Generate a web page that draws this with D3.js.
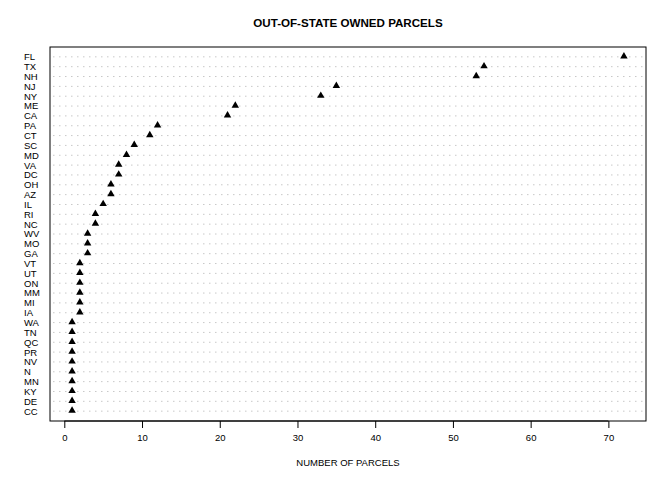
<!DOCTYPE html>
<html>
<head>
<meta charset="utf-8">
<script src="https://cdn.jsdelivr.net/npm/d3@7"></script>
<style>
  body { margin: 0; background: #fff; }
  text { font-family: "Liberation Sans", Arial, sans-serif; }
</style>
</head>
<body>
<div id="chart"></div>
<script>
// data, top to bottom as drawn
const states = ['FL', 'TX', 'NH', 'NJ', 'NY', 'ME', 'CA', 'PA', 'CT', 'SC', 'MD', 'VA', 'DC',
  'OH', 'AZ', 'IL', 'RI', 'NC', 'WV', 'MO', 'GA', 'VT', 'UT', 'ON', 'MM', 'MI', 'IA',
  'WA', 'TN', 'QC', 'PR', 'NV', 'N', 'MN', 'KY', 'DE', 'CC'];
const parcels = [72, 54, 53, 35, 33, 22, 21, 12, 11, 9, 8, 7, 7,
  6, 6, 5, 4, 4, 3, 3, 3, 2, 2, 2, 2, 2, 2,
  1, 1, 1, 1, 1, 1, 1, 1, 1, 1];
const xTicks = [0, 10, 20, 30, 40, 50, 60, 70];

const W = 672, H = 480;
const MARGIN = { TOP: 47, BOTTOM: 59, LEFT: 50, RIGHT: 26 };

const svg = d3.select('#chart')
  .append('svg')
    .attr('width', W)
    .attr('height', H);

// R style: range extended by 4% each side
const lo = d3.min(parcels), hi = d3.max(parcels);
const pad = (hi - lo) * 0.04;
const x = d3.scaleLinear()
  .domain([lo - pad, hi + pad])
  .range([MARGIN.LEFT, W - MARGIN.RIGHT]);

const n = states.length;
const y = d3.scaleLinear()
  .domain([0, n + 1])
  .range([H - MARGIN.BOTTOM, MARGIN.TOP]);

const rowY = i => y(n - i);

// dotted guide lines
svg.append('g')
  .selectAll('line')
  .data(states)
  .enter().append('line')
    .attr('x1', MARGIN.LEFT + 3)
    .attr('x2', W - MARGIN.RIGHT - 3)
    .attr('y1', (d, i) => rowY(i))
    .attr('y2', (d, i) => rowY(i))
    .attr('stroke', '#c8c8c8')
    .attr('stroke-width', 1)
    .attr('stroke-dasharray', '1.5,4.5')

// row labels
svg.append('g')
  .selectAll('text')
  .data(states)
  .enter().append('text')
    .attr('x', 24)
    .attr('y', (d, i) => rowY(i))
    .attr('dy', '0.36em')
    .attr('font-size', 9.5)
    .text(d => d)

// triangles (pch 17)
svg.append('g')
  .selectAll('path')
  .data(parcels)
  .enter().append('path')
    .attr('d', d3.symbol().type(d3.symbolTriangle).size(24))
    .attr('transform', (d, i) => `translate(${x(d)}, ${rowY(i) - 0.5})`)
    .attr('fill', '#000')

// box
svg.append('rect')
  .attr('x', MARGIN.LEFT)
  .attr('y', MARGIN.TOP)
  .attr('width', W - MARGIN.LEFT - MARGIN.RIGHT)
  .attr('height', H - MARGIN.TOP - MARGIN.BOTTOM)
  .attr('fill', 'none')
  .attr('stroke', '#000')
  .attr('stroke-width', 1)

// x axis
const xAxis = svg.append('g')
  .attr('transform', `translate(0, ${H - MARGIN.BOTTOM})`)
  .call(d3.axisBottom(x).tickValues(xTicks).tickSize(7).tickPadding(6).tickSizeOuter(0))
xAxis.select('.domain')
  .attr('d', `M${x(xTicks[0])},0H${x(xTicks[xTicks.length - 1])}`)
xAxis.selectAll('text')
  .attr('font-size', 9.5)
  .attr('font-family', '"Liberation Sans", Arial, sans-serif')

// title
svg.append('text')
  .attr('x', (MARGIN.LEFT + W - MARGIN.RIGHT) / 2)
  .attr('y', 27)
  .attr('text-anchor', 'middle')
  .attr('font-size', 11.6)
  .attr('font-weight', 'bold')
  .text('OUT-OF-STATE OWNED PARCELS')

// x label
svg.append('text')
  .attr('x', (MARGIN.LEFT + W - MARGIN.RIGHT) / 2)
  .attr('y', 465.5)
  .attr('text-anchor', 'middle')
  .attr('font-size', 9.5)
  .text('NUMBER OF PARCELS')
</script>
</body>
</html>
